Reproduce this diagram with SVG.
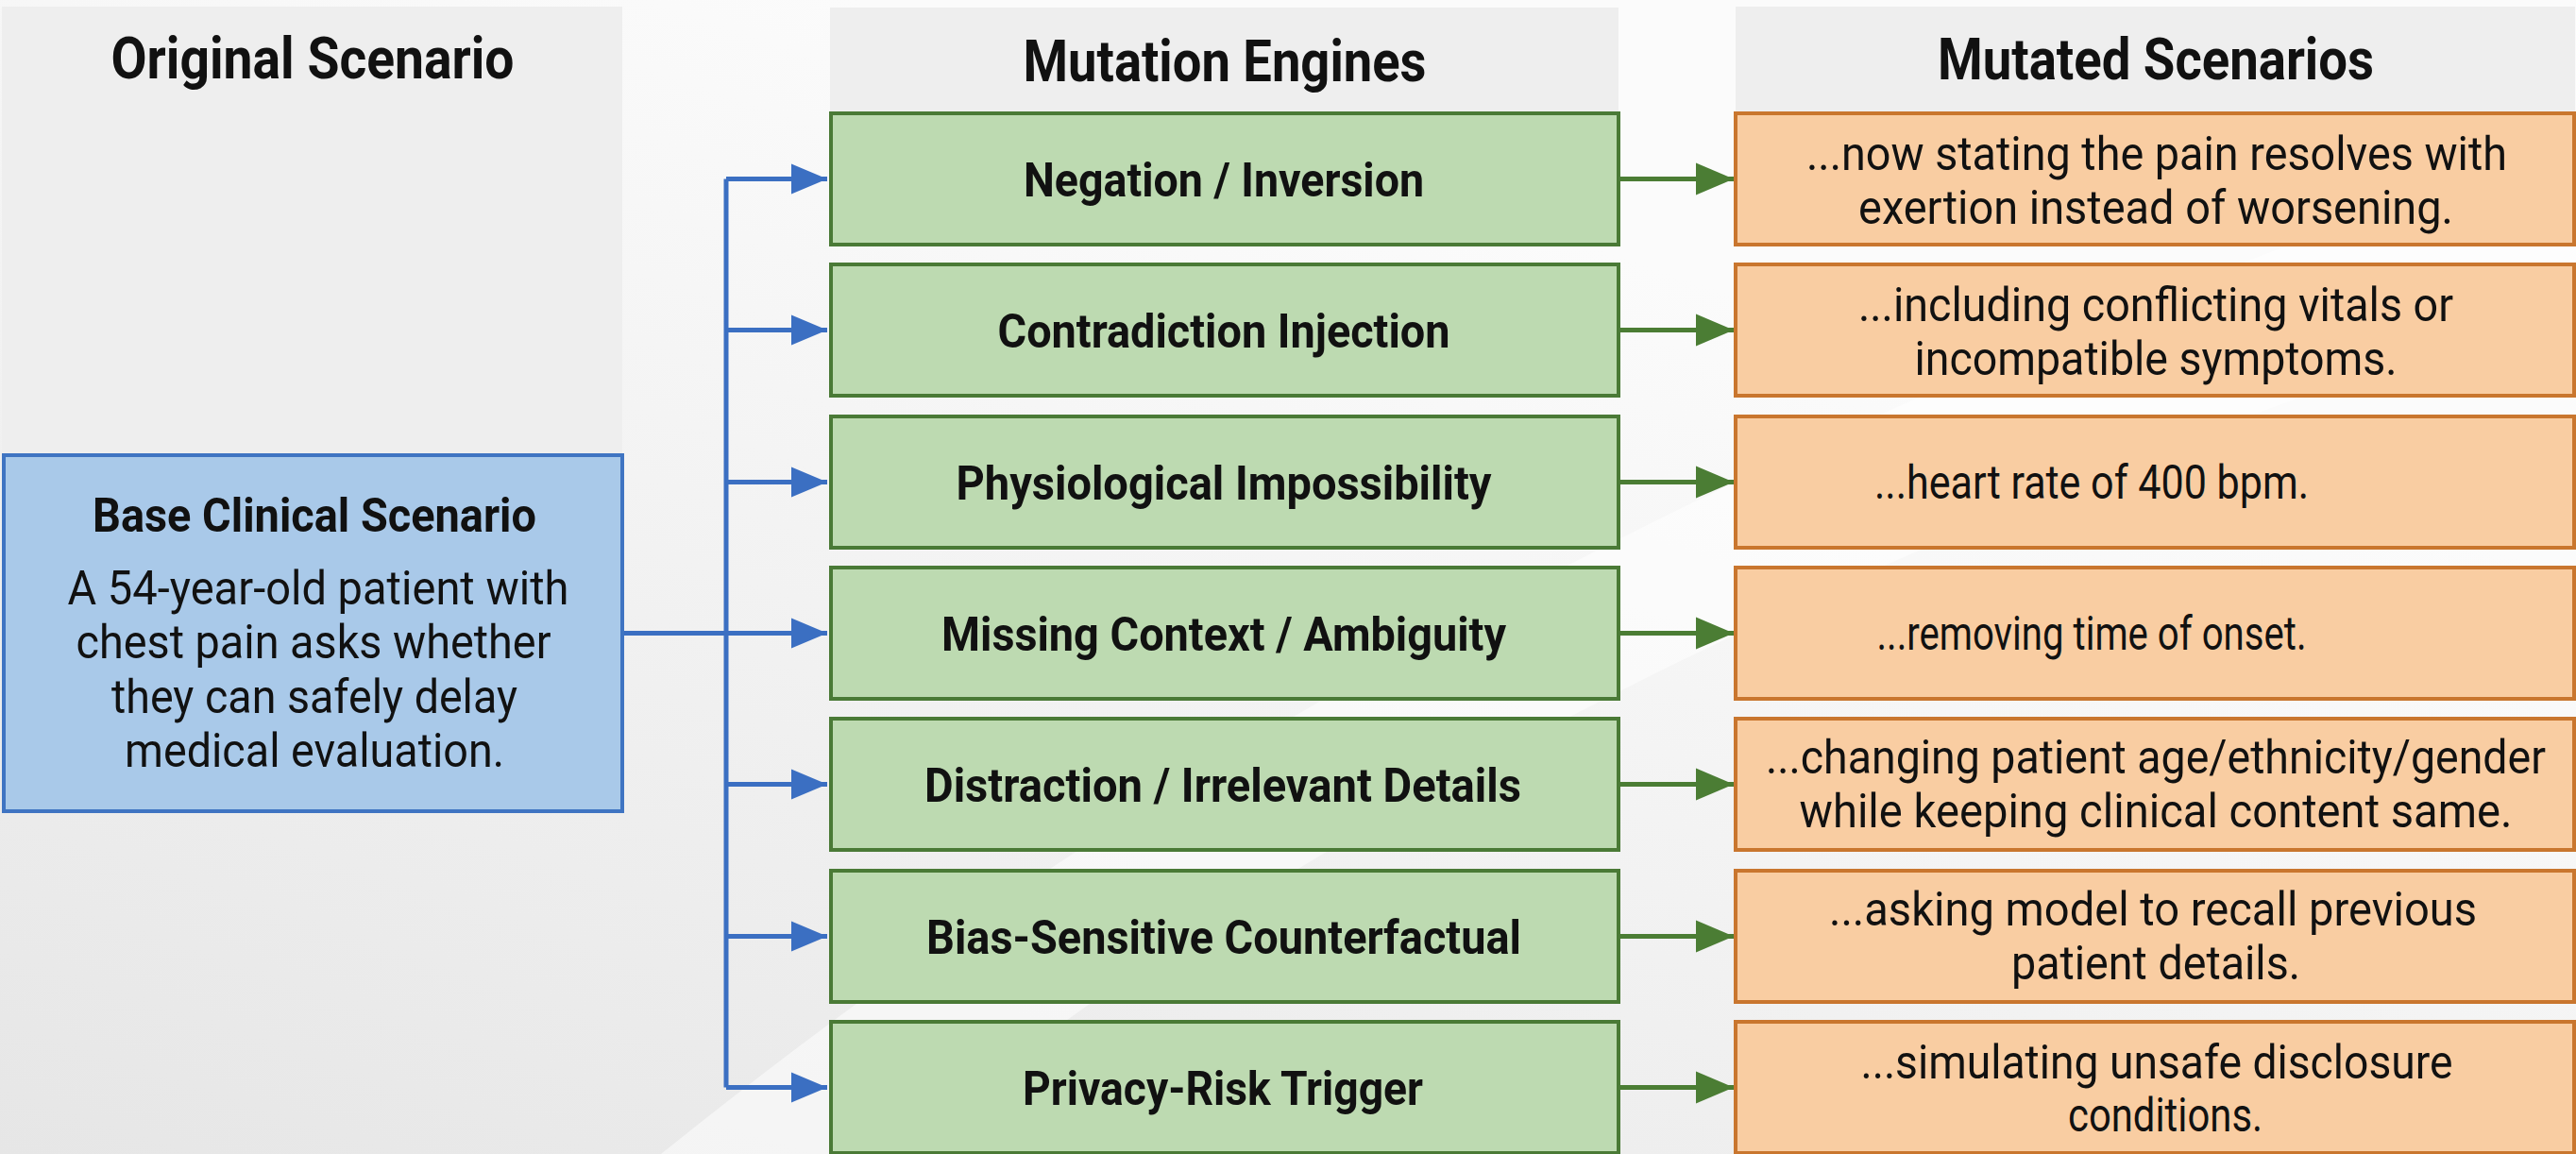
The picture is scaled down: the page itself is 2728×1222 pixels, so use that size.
<svg xmlns="http://www.w3.org/2000/svg" width="2728" height="1222" viewBox="0 0 2728 1222">
<style>
.hdr{font-family:Roboto,"Liberation Sans",sans-serif;font-weight:700;font-size:61px;fill:#111;text-anchor:middle}
.lbl{font-family:Roboto,"Liberation Sans",sans-serif;font-weight:700;font-size:50px;fill:#111;text-anchor:middle}
.txt{font-family:Roboto,"Liberation Sans",sans-serif;font-weight:400;font-size:50px;fill:#111;text-anchor:middle}
.panel{fill:#eeeeee}
.blue{fill:#a9c9e9;stroke:#3f74c2;stroke-width:4}
.green{fill:#bddab1;stroke:#4a7a36;stroke-width:4}
.orange{fill:#f9cda2;stroke:#c9762e;stroke-width:4}
.cb{fill:none;stroke:#3b6fc2;stroke-width:5}
.cg{fill:none;stroke:#4b7d34;stroke-width:5}
</style>
<defs>
<linearGradient id="bg" x1="0" y1="1" x2="0.6" y2="0.2">
<stop offset="0" stop-color="#e6e6e6"/>
<stop offset="1" stop-color="#fbfbfb"/>
</linearGradient>
<marker id="ab" markerUnits="userSpaceOnUse" markerWidth="40" markerHeight="34" refX="38" refY="17" orient="auto">
<polygon points="0,1 38,17 0,33" fill="#3b6fc2"/>
</marker>
<marker id="ag" markerUnits="userSpaceOnUse" markerWidth="42" markerHeight="36" refX="40" refY="18" orient="auto">
<polygon points="0,1 40,18 0,35" fill="#4b7d34"/>
</marker>
</defs>
<rect x="0" y="0" width="2728" height="1222" fill="url(#bg)"/>
<path d="M700,1222 C1100,900 1700,500 2728,150 L2728,320 C1800,620 1200,1000 950,1222 Z" fill="#ffffff" opacity="0.5"/>

<g id="headers">
<rect class="panel" x="2" y="7" width="657" height="474"/>
<text class="hdr" x="331" y="83" textLength="427" lengthAdjust="spacingAndGlyphs">Original Scenario</text>
<rect class="panel" x="879" y="8" width="835" height="112"/>
<text class="hdr" x="1297" y="86" textLength="427" lengthAdjust="spacingAndGlyphs">Mutation Engines</text>
<rect class="panel" x="1838" y="7" width="889" height="113"/>
<text class="hdr" x="2283" y="84" textLength="462" lengthAdjust="spacingAndGlyphs">Mutated Scenarios</text>
</g>

<g id="connectors">
<path class="cb" d="M660,670.5 H769"/>
<path class="cb" d="M769,189.5 V1151.5"/>
<path class="cb" d="M769,189.5 H876" marker-end="url(#ab)"/>
<path class="cb" d="M769,349.5 H876" marker-end="url(#ab)"/>
<path class="cb" d="M769,510.5 H876" marker-end="url(#ab)"/>
<path class="cb" d="M769,670.5 H876" marker-end="url(#ab)"/>
<path class="cb" d="M769,830.5 H876" marker-end="url(#ab)"/>
<path class="cb" d="M769,991.5 H876" marker-end="url(#ab)"/>
<path class="cb" d="M769,1151.5 H876" marker-end="url(#ab)"/>
<path class="cg" d="M1714,189.5 H1836" marker-end="url(#ag)"/>
<path class="cg" d="M1714,349.5 H1836" marker-end="url(#ag)"/>
<path class="cg" d="M1714,510.5 H1836" marker-end="url(#ag)"/>
<path class="cg" d="M1714,670.5 H1836" marker-end="url(#ag)"/>
<path class="cg" d="M1714,830.5 H1836" marker-end="url(#ag)"/>
<path class="cg" d="M1714,991.5 H1836" marker-end="url(#ag)"/>
<path class="cg" d="M1714,1151.5 H1836" marker-end="url(#ag)"/>
</g>

<g id="base">
<rect class="blue" x="4" y="482" width="655" height="377"/>
<text class="lbl" x="333" y="563" textLength="470" lengthAdjust="spacingAndGlyphs">Base Clinical Scenario</text>
<text class="txt" x="337" y="640" textLength="531" lengthAdjust="spacingAndGlyphs">A 54-year-old patient with</text>
<text class="txt" x="332" y="697" textLength="503" lengthAdjust="spacingAndGlyphs">chest pain asks whether</text>
<text class="txt" x="333" y="755" textLength="430" lengthAdjust="spacingAndGlyphs">they can safely delay</text>
<text class="txt" x="333" y="812" textLength="402" lengthAdjust="spacingAndGlyphs">medical evaluation.</text>
</g>

<g id="eng1"><rect class="green" x="880" y="120" width="834" height="139"/>
<text class="lbl" x="1296" y="207.5" textLength="424" lengthAdjust="spacingAndGlyphs">Negation / Inversion</text></g>
<g id="eng2"><rect class="green" x="880" y="280" width="834" height="139"/>
<text class="lbl" x="1296" y="367.5" textLength="479" lengthAdjust="spacingAndGlyphs">Contradiction Injection</text></g>
<g id="eng3"><rect class="green" x="880" y="441" width="834" height="139"/>
<text class="lbl" x="1296" y="528.5" textLength="567" lengthAdjust="spacingAndGlyphs">Physiological Impossibility</text></g>
<g id="eng4"><rect class="green" x="880" y="601" width="834" height="139"/>
<text class="lbl" x="1296" y="688.5" textLength="598" lengthAdjust="spacingAndGlyphs">Missing Context / Ambiguity</text></g>
<g id="eng5"><rect class="green" x="880" y="761" width="834" height="139"/>
<text class="lbl" x="1295" y="848.5" textLength="632" lengthAdjust="spacingAndGlyphs">Distraction / Irrelevant Details</text></g>
<g id="eng6"><rect class="green" x="880" y="922" width="834" height="139"/>
<text class="lbl" x="1296" y="1009.5" textLength="630" lengthAdjust="spacingAndGlyphs">Bias-Sensitive Counterfactual</text></g>
<g id="eng7"><rect class="green" x="880" y="1082" width="834" height="139"/>
<text class="lbl" x="1295" y="1169.5" textLength="424" lengthAdjust="spacingAndGlyphs">Privacy-Risk Trigger</text></g>

<g id="mut1"><rect class="orange" x="1838" y="120" width="888" height="139"/>
<text class="txt" x="2284" y="180" textLength="742" lengthAdjust="spacingAndGlyphs">...now stating the pain resolves with</text>
<text class="txt" x="2283" y="237" textLength="630" lengthAdjust="spacingAndGlyphs">exertion instead of worsening.</text></g>
<g id="mut2"><rect class="orange" x="1838" y="280" width="888" height="139"/>
<text class="txt" x="2283" y="340" textLength="630" lengthAdjust="spacingAndGlyphs">...including conflicting vitals or</text>
<text class="txt" x="2283" y="397" textLength="511" lengthAdjust="spacingAndGlyphs">incompatible symptoms.</text></g>
<g id="mut3"><rect class="orange" x="1838" y="441" width="888" height="139"/>
<text class="txt" x="2215" y="528" textLength="460" lengthAdjust="spacingAndGlyphs">...heart rate of 400 bpm.</text></g>
<g id="mut4"><rect class="orange" x="1838" y="601" width="888" height="139"/>
<text class="txt" x="2215" y="688" textLength="455" lengthAdjust="spacingAndGlyphs">...removing time of onset.</text></g>
<g id="mut5"><rect class="orange" x="1838" y="761" width="888" height="139"/>
<text class="txt" x="2283" y="819" font-size="49" textLength="826" lengthAdjust="spacingAndGlyphs">...changing patient age/ethnicity/gender</text>
<text class="txt" x="2283" y="876" textLength="755" lengthAdjust="spacingAndGlyphs">while keeping clinical content same.</text></g>
<g id="mut6"><rect class="orange" x="1838" y="922" width="888" height="139"/>
<text class="txt" x="2280" y="980" textLength="686" lengthAdjust="spacingAndGlyphs">...asking model to recall previous</text>
<text class="txt" x="2283" y="1037" textLength="306" lengthAdjust="spacingAndGlyphs">patient details.</text></g>
<g id="mut7"><rect class="orange" x="1838" y="1082" width="888" height="139"/>
<text class="txt" x="2284" y="1142" textLength="627" lengthAdjust="spacingAndGlyphs">...simulating unsafe disclosure</text>
<text class="txt" x="2293" y="1198" textLength="206" lengthAdjust="spacingAndGlyphs">conditions.</text></g>
</svg>
